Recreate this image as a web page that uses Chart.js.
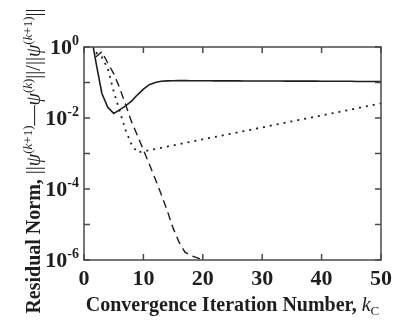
<!DOCTYPE html>
<html>
<head>
<meta charset="utf-8">
<script src="https://cdn.jsdelivr.net/npm/chart.js@4/dist/chart.umd.min.js"></script>
<style>
  html, body { margin: 0; padding: 0; background: #fff; }
  #wrap { width: 398px; height: 320px; }
</style>
</head>
<body>
<div id="wrap"><canvas id="myChart" width="398" height="320"></canvas></div>
<script>
// iteration numbers k_C
const iterations = [1,2,3,4,5,6,7,8,9,10,11,12,13,14,15,16,17,18,19,20,
  21,22,23,24,25,26,27,28,29,30,31,32,33,34,35,36,37,38,39,40,
  41,42,43,44,45,46,47,48,49,50];

// solid line
const residualSolid = [3.4, 0.38, 0.05, 0.02, 0.0135, 0.017, 0.022, 0.03, 0.045, 0.065,
  0.087, 0.1, 0.108, 0.111, 0.112, 0.113, 0.113, 0.112, 0.112, 0.112,
  0.112, 0.111, 0.111, 0.111, 0.111, 0.111, 0.11, 0.11, 0.11, 0.11,
  0.11, 0.11, 0.11, 0.109, 0.109, 0.109, 0.109, 0.109, 0.109, 0.108,
  0.108, 0.108, 0.108, 0.108, 0.108, 0.107, 0.107, 0.107, 0.107, 0.107];

// dashed line (k = 1..20)
const residualDashed = [null, 0.52, 0.74, 0.355, 0.178, 0.071, 0.024, 0.0079, 0.0032, 0.00126,
  5.0e-4, 1.9e-4, 7.1e-5, 2.5e-5, 7.9e-6, 3.2e-6, 1.66e-6, 1.32e-6, 1.17e-6, 1.0e-6];

// dotted line
const residualDotted = [null, 0.7, 0.52, 0.25, 0.056, 0.0158, 0.0046, 0.0018, 0.00107, 0.00115,
  1.24e-3, 1.34e-3, 1.45e-3, 1.57e-3, 1.69e-3, 1.83e-3, 1.98e-3, 2.14e-3, 2.31e-3, 2.50e-3,
  2.70e-3, 2.92e-3, 3.15e-3, 3.41e-3, 3.68e-3, 3.98e-3, 4.30e-3, 4.65e-3, 5.03e-3, 5.43e-3,
  5.87e-3, 6.35e-3, 6.86e-3, 7.41e-3, 8.01e-3, 8.66e-3, 9.36e-3, 1.01e-2, 1.09e-2, 1.18e-2,
  1.28e-2, 1.38e-2, 1.49e-2, 1.61e-2, 1.74e-2, 1.88e-2, 2.04e-2, 2.20e-2, 2.38e-2, 2.57e-2];

const xTicks = [0, 10, 20, 30, 40, 50];
const yTickExps = [0, -1, -2, -3, -4, -5, -6];
const yLabelExps = [0, -2, -4, -6];

const serif = '"Liberation Serif", "Times New Roman", serif';
const ink = '#1e1e1e';
const frame = '#4a4a4a';

function toPoints(arr) {
  return iterations.map((k, i) => ({ x: k, y: arr[i] })).filter(p => p.y != null);
}

function drawRuns(ctx, runs, x, y) {
  let cx = x;
  runs.forEach(r => {
    ctx.font = r.f;
    ctx.fillText(r.t, cx, y + (r.dy || 0));
    cx += ctx.measureText(r.t).width;
  });
  return cx - x;
}
function runsWidth(ctx, runs) {
  let w = 0;
  runs.forEach(r => { ctx.font = r.f; w += ctx.measureText(r.t).width; });
  return w;
}

const decorations = {
  id: 'decorations',
  afterDraw(chart) {
    const ctx = chart.ctx;
    const a = chart.chartArea;
    const xs = chart.scales.x, ys = chart.scales.y;
    ctx.save();
    // frame
    ctx.strokeStyle = frame;
    ctx.lineWidth = 1.5;
    ctx.strokeRect(a.left, a.top, a.right - a.left, a.bottom - a.top);
    // inward ticks
    const len = 6;
    ctx.beginPath();
    xTicks.forEach(v => {
      const px = xs.getPixelForValue(v);
      ctx.moveTo(px, a.bottom); ctx.lineTo(px, a.bottom - len);
      ctx.moveTo(px, a.top); ctx.lineTo(px, a.top + len);
    });
    yTickExps.forEach(e => {
      const py = ys.getPixelForValue(Math.pow(10, e));
      ctx.moveTo(a.left, py); ctx.lineTo(a.left + len, py);
      ctx.moveTo(a.right, py); ctx.lineTo(a.right - len, py);
    });
    ctx.stroke();

    // y tick labels with superscripts
    ctx.fillStyle = ink;
    ctx.textBaseline = 'alphabetic';
    ctx.textAlign = 'left';
    yLabelExps.forEach(e => {
      const py = ys.getPixelForValue(Math.pow(10, e));
      const runs = [
        { t: '10', f: 'bold 22px ' + serif },
        { t: String(e), f: 'bold 14px ' + serif, dy: -9 }
      ];
      const w = runsWidth(ctx, runs);
      drawRuns(ctx, runs, 79 - w, py + 7);
    });

    // x title
    const xRuns = [
      { t: 'Convergence Iteration Number, ', f: 'bold 20px ' + serif },
      { t: 'k', f: 'italic 20px ' + serif },
      { t: 'C', f: '13px ' + serif, dy: 4 }
    ];
    const xw = runsWidth(ctx, xRuns);
    drawRuns(ctx, xRuns, (a.left + a.right) / 2 - xw / 2, 311);

    // y title
    const sup = -8;
    const yRuns = [
      { t: 'Residual Norm, ', f: 'bold 20px ' + serif },
      { t: '||', f: '20px ' + serif },
      { t: 'ψ', f: 'italic 20px ' + serif },
      { t: '(', f: '13px ' + serif, dy: sup },
      { t: 'k', f: 'italic 13px ' + serif, dy: sup },
      { t: '+1)', f: '13px ' + serif, dy: sup },
      { t: '\u2014', f: '20px ' + serif },
      { t: 'ψ', f: 'italic 20px ' + serif },
      { t: '(', f: '13px ' + serif, dy: sup },
      { t: 'k', f: 'italic 13px ' + serif, dy: sup },
      { t: ')', f: '13px ' + serif, dy: sup },
      { t: '||/||', f: '20px ' + serif },
      { t: 'ψ', f: 'italic 20px ' + serif },
      { t: '(', f: '13px ' + serif, dy: sup },
      { t: 'k', f: 'italic 13px ' + serif, dy: sup },
      { t: '+1)', f: '13px ' + serif, dy: sup },
      { t: '||', f: '20px ' + serif }
    ];
    const yw = runsWidth(ctx, yRuns);
    ctx.translate(40, 161 + yw / 2);
    ctx.rotate(-Math.PI / 2);
    drawRuns(ctx, yRuns, 0, 0);
    ctx.restore();
  }
};

const lineBase = {
  borderColor: ink,
  backgroundColor: ink,
  pointRadius: 0,
  tension: 0,
  fill: false
};

new Chart(document.getElementById('myChart'), {
  type: 'line',
  data: {
    datasets: [
      Object.assign({ label: 'solid', data: toPoints(residualSolid), borderWidth: 1.6 }, lineBase),
      Object.assign({ label: 'dashed', data: toPoints(residualDashed), borderWidth: 1.4, borderDash: [8, 5] }, lineBase),
      Object.assign({ label: 'dotted', data: toPoints(residualDotted), borderWidth: 1.8, borderDash: [2, 5] }, lineBase)
    ]
  },
  options: {
    responsive: false,
    animation: false,
    layout: { padding: { top: 47, right: 9, left: 0, bottom: 0 } },
    plugins: { legend: { display: false }, tooltip: { enabled: false } },
    scales: {
      x: {
        type: 'linear',
        min: 0,
        max: 50,
        afterBuildTicks: s => { s.ticks = xTicks.map(v => ({ value: v })); },
        afterFit: s => { s.height = 60; },
        grid: { display: false, drawTicks: false },
        border: { display: false },
        ticks: {
          padding: 6,
          color: ink,
          font: { family: serif, size: 22, weight: 'bold' },
          maxRotation: 0
        }
      },
      y: {
        type: 'logarithmic',
        min: 1e-6,
        max: 1,
        afterBuildTicks: s => { s.ticks = yTickExps.map(e => ({ value: Math.pow(10, e) })); },
        afterFit: s => { s.width = 84; },
        grid: { display: false, drawTicks: false },
        border: { display: false },
        ticks: { display: false }
      }
    }
  },
  plugins: [decorations]
});
</script>
</body>
</html>
